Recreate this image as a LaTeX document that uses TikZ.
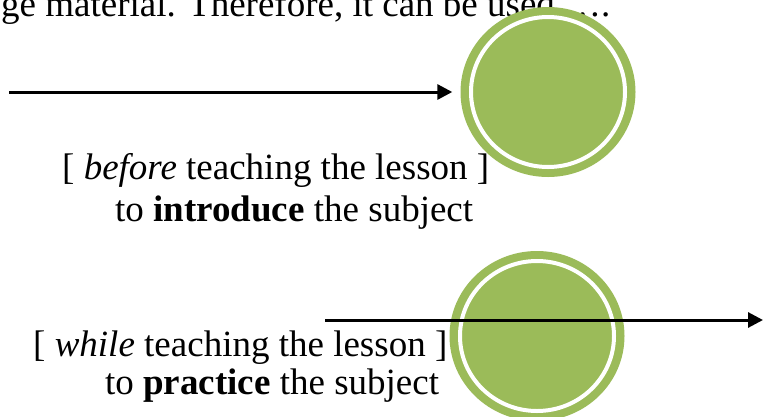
\documentclass[tikz,border=0pt]{standalone}
\usepackage{fontspec}
\setmainfont{Liberation Serif}
\usetikzlibrary{arrows.meta,shapes.geometric}
\definecolor{olivegreen}{HTML}{9BBB59}
\tikzset{
  txt/.style={anchor=base west, inner sep=0pt, font=\fontsize{37}{44}\selectfont},
  disc/.style={ellipse, fill=olivegreen, draw=none, minimum width=175pt, minimum height=170pt, inner sep=0pt},
  ring/.style={draw=white, line width=4pt},
  arr/.style={line width=3pt, -{Triangle[length=15pt,width=15pt]}}
}
\begin{document}
\begin{tikzpicture}[x=1pt,y=-1pt]
\useasboundingbox (0,0) rectangle (763,416);
\node[txt] (top) at (1,16) {ge material. Therefore, it can be used \ldots.};
% circles
\node[disc] (c1) at (548,92) {};
\draw[ring] (c1.center) ellipse (77pt and 75pt);
\node[disc] (c2) at (537,336) {};
\draw[ring] (c2.center) ellipse (77pt and 75pt);
% texts
\node[txt] (a1) at (62,179) {[ \textit{before} teaching the lesson ]};
\node[txt] (a2) at (115,221) {to \textbf{introduce} the subject};
\node[txt] (b1) at (33,356) {[ \textit{while} teaching the lesson ]};
\node[txt] (b2) at (105,394) {to \textbf{practice} the subject};
% arrows
\coordinate (s1) at (9,92);
\coordinate (s2) at (325,320);
\coordinate (e2) at (763,320);
\draw[arr, shorten >=8pt] (s1) -- (c1.west);
\draw[arr] (s2) -- (e2);
\end{tikzpicture}
\end{document}
